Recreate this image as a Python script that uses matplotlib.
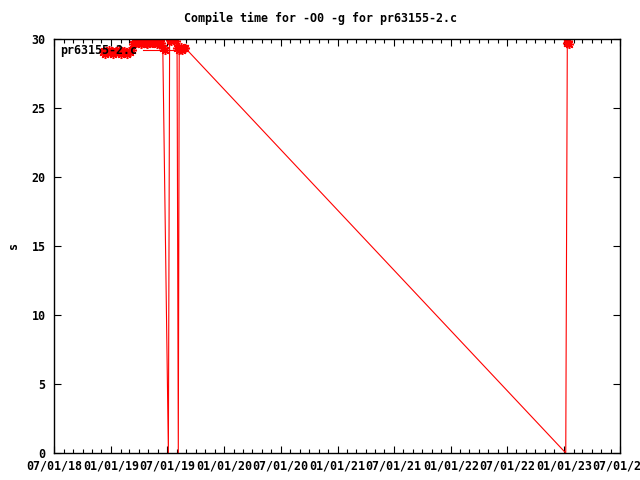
import matplotlib
matplotlib.use("Agg")
import matplotlib.pyplot as plt
import matplotlib.dates as mdates
import pandas as pd

title = "Compile time for -O0 -g for pr63155-2.c"
series_label = "pr63155-2.c"
y_label = "s"

dates = [
    "2018-12-05", "2018-12-10", "2018-12-14", "2018-12-19", "2018-12-24", "2018-12-29",
    "2019-01-03", "2019-01-08", "2019-01-13", "2019-01-18", "2019-01-23", "2019-01-28",
    "2019-02-02", "2019-02-07", "2019-02-12", "2019-02-17", "2019-02-22", "2019-02-27",
    "2019-03-04", "2019-03-09",
    "2019-03-14", "2019-03-19", "2019-03-24", "2019-03-29", "2019-04-03", "2019-04-08",
    "2019-04-13", "2019-04-18", "2019-04-23", "2019-04-28", "2019-05-03", "2019-05-08",
    "2019-05-13", "2019-05-18", "2019-05-23", "2019-05-28", "2019-06-02", "2019-06-07",
    "2019-06-12", "2019-06-17",
    "2019-07-05", "2019-07-09", "2019-07-14", "2019-07-19", "2019-07-24", "2019-07-29",
    "2019-08-02", "2019-08-06", "2019-08-09", "2019-08-14", "2019-08-19", "2019-08-24",
    "2019-08-29",
    "2023-01-07", "2023-01-12", "2023-01-14", "2023-01-16",
]
seconds = [
    29.0, 29.1, 28.9, 29.0, 29.2, 29.0,
    29.1, 28.9, 29.0, 29.1, 29.0, 29.2,
    28.9, 29.0, 29.1, 29.0, 28.9, 29.1,
    29.0, 29.2,
    29.6, 29.7, 29.8, 29.7, 29.8, 29.6,
    29.7, 29.8, 29.7, 29.6, 29.7, 29.8,
    29.7, 29.7, 29.8, 29.6, 29.7, 29.8,
    29.7, 29.3,
    0.0, 29.9, 29.8, 30.0, 29.9, 29.8,
    29.3, 0.0, 29.2, 29.4, 29.2, 29.3,
    29.3,
    0.0, 29.7, 29.8, 29.6,
]
x_start = "2018-07-01"
x_end = "2023-07-01"
y_ticks = [0, 5, 10, 15, 20, 25, 30]

font = ["DejaVu Sans Mono"]
fs = 8.4

fig = plt.figure(figsize=(6.4, 4.8), dpi=100)
ax = fig.add_axes([54 / 640, 1 - 453 / 480, (620 - 54) / 640, (453 - 38.5) / 480])

x = pd.to_datetime(dates)
# points at zero fall on the border: the reference shows no marker there
marked = [i for i, v in enumerate(seconds) if v > 0]
ax.plot(x, seconds, color="#ff0000", lw=0.8, marker=(8, 2, 0), ms=6.5, mew=1.1,
        markevery=marked, label=series_label)

ax.set_xlim(pd.Timestamp(x_start), pd.Timestamp(x_end))
ax.set_ylim(0, 30)
ax.set_yticks(y_ticks)
ax.xaxis.set_major_locator(mdates.MonthLocator(bymonth=[1, 7]))
ax.xaxis.set_major_formatter(mdates.DateFormatter("%m/%d/%y"))
ax.xaxis.set_minor_locator(mdates.MonthLocator())

ax.tick_params(which="both", direction="in", top=True, right=True, width=0.8, colors="black")
ax.tick_params(which="major", length=5)
ax.tick_params(which="minor", length=3)
ax.tick_params(axis="y", pad=6)
ax.tick_params(axis="x", pad=5)
for lab in ax.get_xticklabels() + ax.get_yticklabels():
    lab.set_fontfamily(font)
    lab.set_fontsize(fs)
    lab.set_fontweight("bold")
for s in ax.spines.values():
    s.set_linewidth(1.0)
    s.set_color("black")

fig.text(0.5, 1 - 18 / 480, title, ha="center", va="center",
         family=font, fontsize=fs, fontweight="bold")
fig.text(14 / 640, 1 - 246 / 480, y_label, ha="center", va="center", rotation=90,
         family=font, fontsize=fs, fontweight="bold")

leg = ax.legend(loc="upper left", markerfirst=False, frameon=False,
                prop={"family": font, "size": fs, "weight": "bold"},
                handlelength=3.8, borderaxespad=0.2, borderpad=0.3, handletextpad=0.5)

fig.savefig("out.png", dpi=100)
